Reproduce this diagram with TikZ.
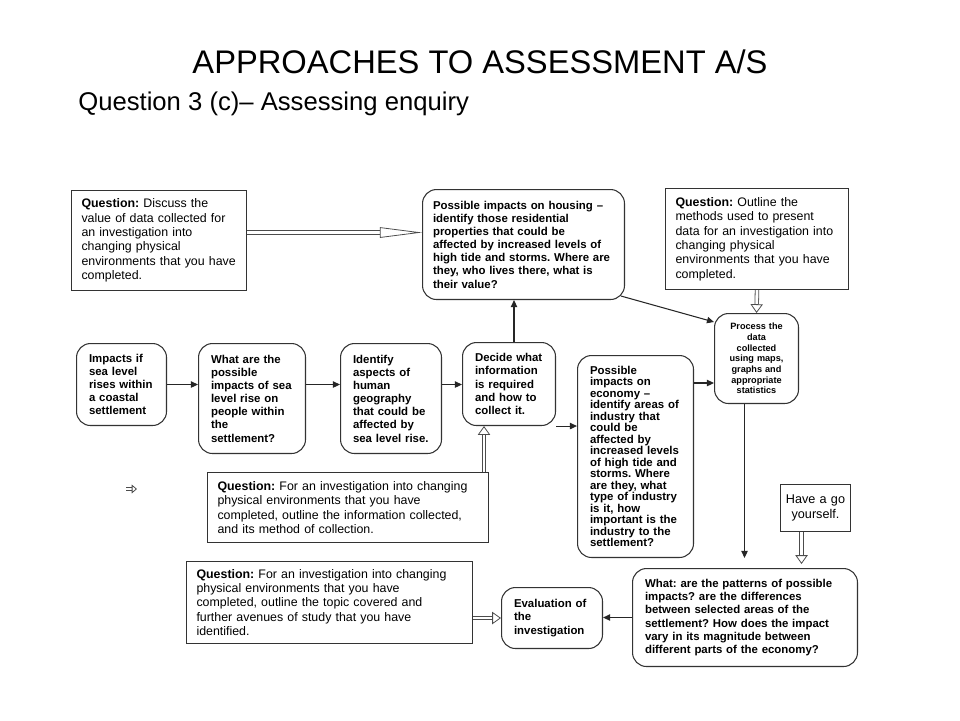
\documentclass[tikz,border=0pt]{standalone}
\usepackage{fontspec}
\setmainfont{Liberation Sans}
\usetikzlibrary{arrows.meta}
\frenchspacing

\begin{document}
\begin{tikzpicture}[x=0.02cm,y=-0.02cm,
  qbox/.style={draw=black!80, line width=0.6pt, anchor=north west, align=left, inner xsep=0.2cm, font=\fontsize{7.05}{8.2}\selectfont},
  rbox/.style={draw=black!80, line width=0.6pt, rounded corners=0.28cm, anchor=north west, align=left, inner xsep=0.25cm, font=\fontsize{6.5}{7.5}\selectfont\bfseries},
  arr/.style={draw=black!85, line width=0.6pt, -{Triangle[length=4pt,width=3.6pt]}},
  hollow/.style={draw=black!70, double, double distance=1.6pt, line width=0.45pt, -{Triangle[open,length=5pt,width=7pt]}}]
  \useasboundingbox (0,0) rectangle (960,720);
  \node (title) at (480,62) {\fontsize{18.6}{20}\selectfont APPROACHES TO ASSESSMENT A/S};
  \node[anchor=west, inner sep=0pt] (sub) at (78,104) {\fontsize{14.6}{16}\selectfont Question 3 (c)-- Assessing enquiry};

  \node[qbox, text width=3.1cm, minimum height=2cm] (q1) at (71,190) {\textbf{Question:} Discuss the\\ value of data collected for\\ an investigation into\\ changing physical\\ environments that you have\\ completed.};
  \node[rbox, text width=3.62cm, inner xsep=0.21cm, minimum height=2.2cm] (house) at (422,189) {Possible impacts on housing --\\ identify those residential\\ properties that could be\\ affected by increased levels of\\ high tide and storms. Where are\\ they, who lives there, what is\\ their value?};
  \node[qbox, text width=3.26cm, minimum height=2.02cm] (q2) at (665,188) {\textbf{Question:} Outline the\\ methods used to present\\ data for an investigation into\\ changing physical\\ environments that you have\\ completed.};

  \node[rbox, text width=1.3cm, minimum height=1.64cm] (imp) at (76,343) {Impacts if\\ sea level\\ rises within\\ a coastal\\ settlement};
  \node[rbox, text width=1.64cm, minimum height=2.2cm] (what) at (198,343) {What are the\\ possible\\ impacts of sea\\ level rise on\\ people within\\ the\\ settlement?};
  \node[rbox, text width=1.52cm, minimum height=2.2cm] (ide) at (340,343) {Identify\\ aspects of\\ human\\ geography\\ that could be\\ affected by\\ sea level rise.};
  \node[rbox, text width=1.36cm, minimum height=1.66cm] (dec) at (462,342) {Decide what\\ information\\ is required\\ and how to\\ collect it.};
  \node[rbox, text width=1.82cm, minimum height=4.04cm, font=\fontsize{6.5}{6.55}\selectfont\bfseries] (eco) at (577,355) {Possible\\ impacts on\\ economy --\\ identify areas of\\ industry that\\ could be\\ affected by\\ increased levels\\ of high tide and\\ storms. Where\\ are they, what\\ type of industry\\ is it, how\\ important is the\\ industry to the\\ settlement?};
  \node[rbox, text width=1.3cm, minimum height=1.8cm, inner xsep=0.19cm, align=center, font=\fontsize{5.2}{6.1}\selectfont\bfseries] (proc) at (714,313) {Process the\\ data\\ collected\\ using maps,\\ graphs and\\ appropriate\\ statistics};

  \node[qbox, text width=5.22cm, minimum height=1.4cm] (q3) at (207,472) {\textbf{Question:} For an investigation into changing\\ physical environments that you have\\ completed, outline the information collected,\\ and its method of collection.};
  \node[qbox, text width=5.32cm, minimum height=1.64cm] (q4) at (186,561) {\textbf{Question:} For an investigation into changing\\ physical environments that you have\\ completed, outline the topic covered and\\ further avenues of study that you have\\ identified.};
  \node[rbox, text width=1.52cm, minimum height=1.22cm] (eva) at (501,587) {Evaluation of\\ the\\ investigation};
  \node[rbox, text width=4.0cm, minimum height=1.96cm] (pat) at (632,568) {What: are the patterns of possible\\ impacts? are the differences\\ between selected areas of the\\ settlement? How does the impact\\ vary in its magnitude between\\ different parts of the economy?};
  \node[qbox, text width=1.24cm, inner xsep=0.08cm, minimum height=0.94cm, align=center, font=\fontsize{7.2}{8.2}\selectfont] (have) at (780,484) {Have a go\\ yourself.};

  \draw[hollow, -{Triangle[open,length=24pt,width=6pt]}] ([yshift=0.16cm]q1.east) -- ([yshift=0.16cm]q1.east -| house.west);
  \draw[arr] ([shift={(-4,-4)}]house.south east) -- ([yshift=-0.18cm]proc.north west);
  \draw[hollow] (q2.south) -- (proc.north);
  \draw[arr] (imp.east) -- (imp.east -| what.west);
  \draw[arr] (imp.east -| what.east) -- (imp.east -| ide.west);
  \draw[arr] (imp.east -| ide.east) -- (imp.east -| dec.west);
  \draw[arr] ([xshift=0.1cm]dec.north) -- ([xshift=0.1cm]dec.north |- house.south);
  \draw[arr] (dec.south east) -- (dec.south east -| eco.west);
  \draw[arr] ([yshift=-0.49cm]proc.west -| eco.east) -- ([yshift=-0.49cm]proc.west);
  \draw[hollow] ([xshift=-0.1cm]q3.north east) -- ([xshift=-0.1cm]q3.north east |- dec.south);
  \draw[arr, shorten >=0.2cm] ([xshift=-0.24cm]proc.south) -- ([xshift=-0.24cm]proc.south |- pat.north);
  \draw[hollow, shorten >=0.08cm] ([xshift=-0.28cm]have.south) -- ([xshift=-0.28cm]have.south |- pat.north);
  \draw[arr] (pat.west) -- (pat.west -| eva.east);
  \draw[hollow] (eva.west -| q4.east) -- (eva.west);
  \draw[hollow, -{Triangle[open,length=3pt,width=5pt]}] (126,489) -- (137,489);
\end{tikzpicture}
\end{document}
